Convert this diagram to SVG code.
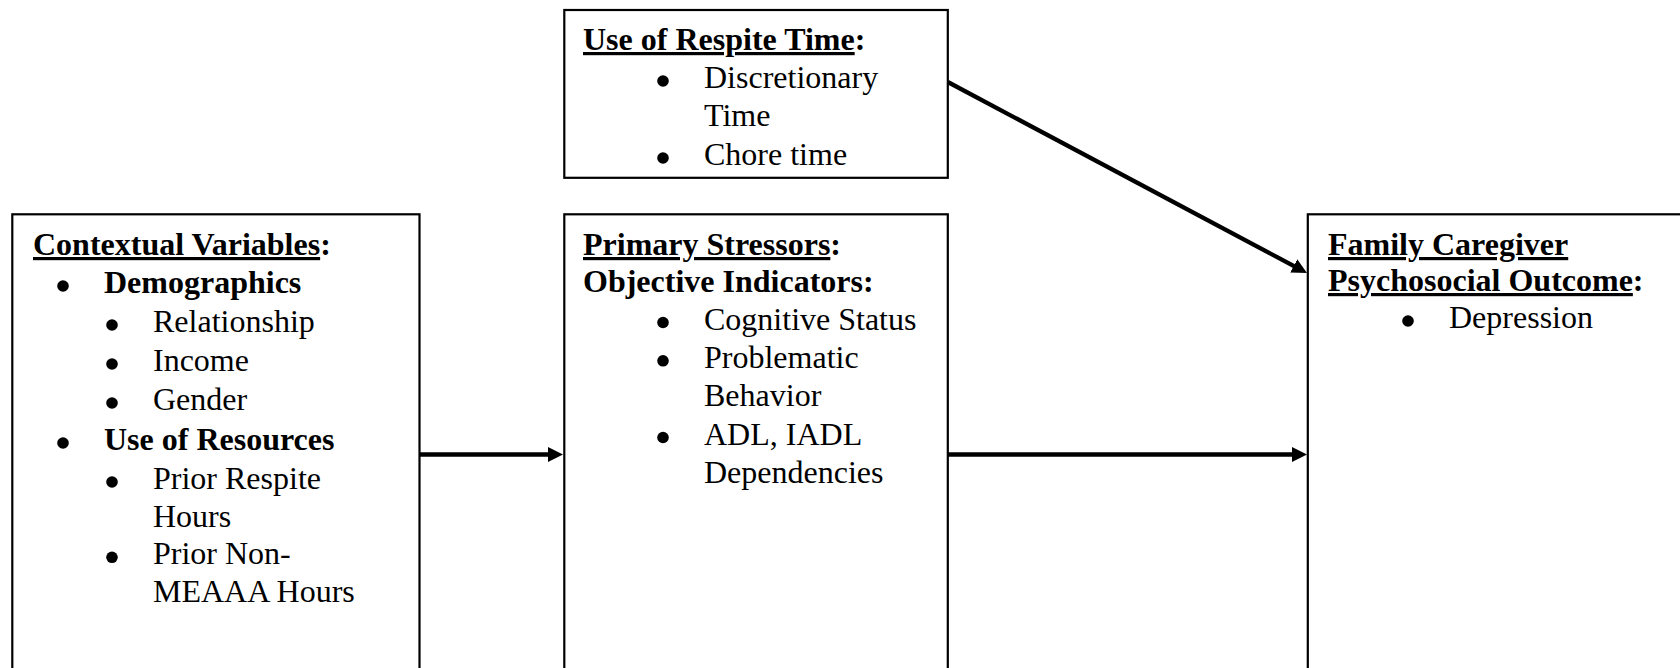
<svg xmlns="http://www.w3.org/2000/svg" width="1680" height="668" viewBox="0 0 1680 668">
<style>
.box{fill:#fff;stroke:#000;stroke-width:2.2}
text{font-family:"Liberation Serif","Times New Roman",serif;font-size:32px;fill:#000}
.b{font-weight:bold}
.u{text-decoration:underline}
.dot{fill:#000}
.conn{stroke:#000;stroke-width:4.3;fill:none}
</style>
<defs>
<marker id="ah" markerUnits="userSpaceOnUse" markerWidth="16" markerHeight="16" refX="3" refY="7.5" orient="auto">
<path d="M0,0 L15,7.5 L0,15 z" fill="#000"/>
</marker>
</defs>
<rect width="1680" height="668" fill="#fff"/>
<g id="contextual">
<rect class="box" x="12.3" y="214.3" width="407.2" height="480"/>
<text x="33" y="255" class="b"><tspan class="u">Contextual Variables</tspan>:</text>
<circle class="dot" cx="63" cy="286" r="5.8"/><text x="104" y="293.3" class="b">Demographics</text>
<circle class="dot" cx="112" cy="325" r="5.8"/><text x="153" y="332">Relationship</text>
<circle class="dot" cx="112" cy="364" r="5.8"/><text x="153" y="371">Income</text>
<circle class="dot" cx="112" cy="403" r="5.8"/><text x="153" y="410">Gender</text>
<circle class="dot" cx="63" cy="443" r="5.8"/><text x="104" y="450" class="b">Use of Resources</text>
<circle class="dot" cx="112" cy="482" r="5.8"/><text x="153" y="489">Prior Respite</text>
<text x="153" y="526.7">Hours</text>
<circle class="dot" cx="112" cy="557.3" r="5.8"/><text x="153" y="564.3">Prior Non-</text>
<text x="153" y="601.7">MEAAA Hours</text>
</g>
<g id="respite">
<rect class="box" x="564.3" y="10" width="383.5" height="167.8"/>
<text x="583" y="50" class="b"><tspan class="u">Use of Respite Time</tspan>:</text>
<circle class="dot" cx="663" cy="81" r="5.8"/><text x="704" y="88">Discretionary</text>
<text x="704" y="126.3">Time</text>
<circle class="dot" cx="663" cy="158" r="5.8"/><text x="704" y="165">Chore time</text>
</g>
<g id="stressors">
<rect class="box" x="564.3" y="214.3" width="383.5" height="480"/>
<text x="583" y="255" class="b"><tspan class="u">Primary Stressors</tspan>:</text>
<text x="583" y="292" class="b">Objective Indicators:</text>
<circle class="dot" cx="663" cy="322.5" r="5.8"/><text x="704" y="329.5">Cognitive Status</text>
<circle class="dot" cx="663" cy="360.8" r="5.8"/><text x="704" y="367.8">Problematic</text>
<text x="704" y="406">Behavior</text>
<circle class="dot" cx="663" cy="437.5" r="5.8"/><text x="704" y="444.5">ADL, IADL</text>
<text x="704" y="482.7">Dependencies</text>
</g>
<g id="outcome">
<rect class="box" x="1307.8" y="214.3" width="400" height="480"/>
<text x="1328" y="255" class="b u">Family Caregiver</text>
<text x="1328" y="291" class="b"><tspan class="u">Psychosocial Outcome</tspan>:</text>
<circle class="dot" cx="1408" cy="321" r="5.8"/><text x="1449" y="328">Depression</text>
</g>
<g id="connectors">
<line class="conn" x1="419.5" y1="454.5" x2="551" y2="454.5" marker-end="url(#ah)"/>
<line class="conn" x1="947.8" y1="454.5" x2="1295" y2="454.5" marker-end="url(#ah)"/>
<line class="conn" x1="947.8" y1="82" x2="1296.4" y2="267.4" marker-end="url(#ah)"/>
</g>
</svg>
